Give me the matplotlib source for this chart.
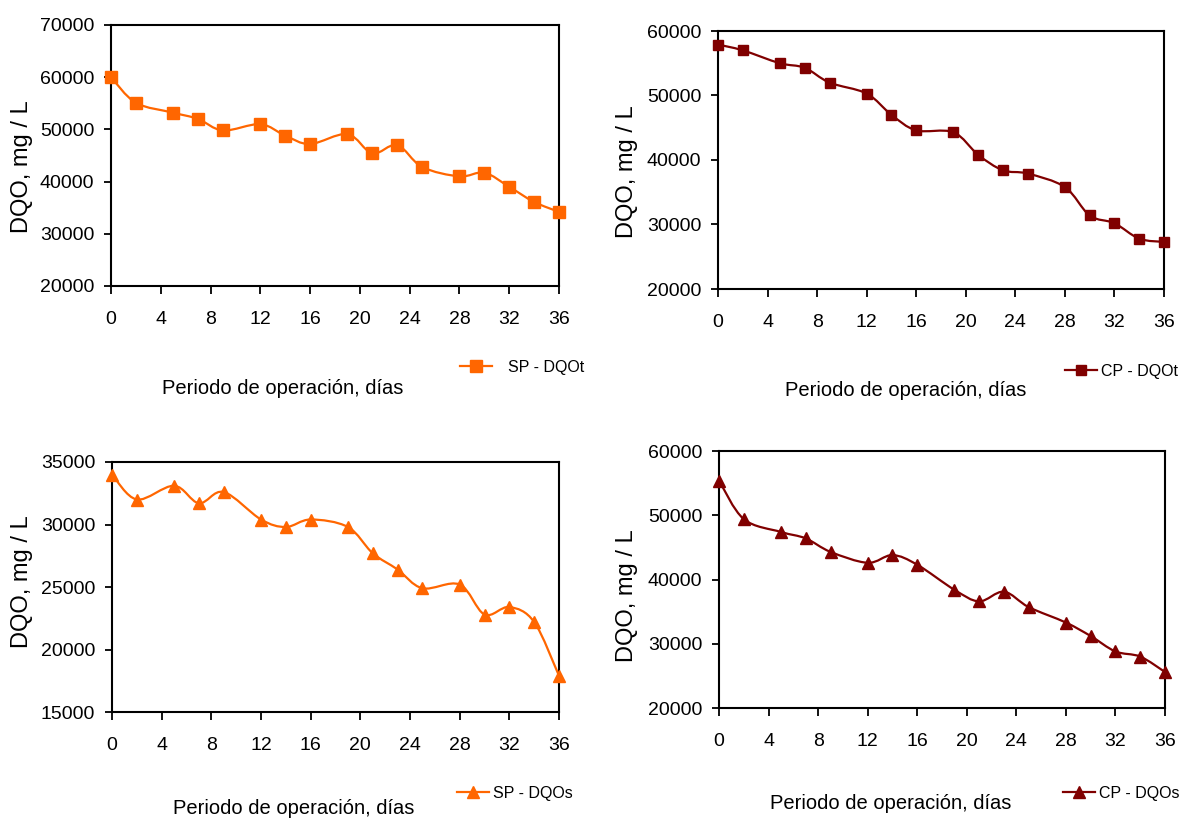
import matplotlib
matplotlib.use("Agg")
import matplotlib.pyplot as plt
from matplotlib.path import Path
from matplotlib.patches import PathPatch
from matplotlib.lines import Line2D
import numpy as np

days = [0, 2, 5, 7, 9, 12, 14, 16, 19, 21, 23, 25, 28, 30, 32, 34, 36]
sp_dqot = [60000, 55100, 53200, 52000, 49800, 51000, 48800, 47200, 49100,
           45400, 47000, 42800, 41000, 41700, 39000, 36100, 34200]
cp_dqot = [57900, 57000, 55000, 54300, 52000, 50300, 47000, 44600, 44300,
           40800, 38400, 37900, 35800, 31400, 30200, 27800, 27300]
sp_dqos = [34000, 32000, 33100, 31700, 32600, 30400, 29800, 30400, 29800,
           27700, 26400, 24900, 25200, 22800, 23400, 22200, 17900]
cp_dqos = [55400, 49400, 47400, 46400, 44300, 42600, 43800, 42300, 38400,
           36600, 38100, 35700, 33300, 31200, 28800, 28000, 25600]

xticks = [0, 4, 8, 12, 16, 20, 24, 28, 32, 36]
xlabel = "Periodo de operación, días"
ylabel = "DQO, mg / L"

ORANGE = "#FF6600"
DARKRED = "#800000"

W, H = 1191, 821
fig = plt.figure(figsize=(W / 100, H / 100), dpi=100)

REG = ["Liberation Sans", "DejaVu Sans"]


def smooth_path(x, y):
    pts = np.column_stack([x, y]).astype(float)
    n = len(pts)
    verts = [pts[0]]
    codes = [Path.MOVETO]
    for i in range(n - 1):
        p0 = pts[i - 1] if i > 0 else pts[i]
        p1 = pts[i]
        p2 = pts[i + 1]
        p3 = pts[i + 2] if i + 2 < n else pts[i + 1]
        c1 = p1 + (p2 - p0) / 6.0
        c2 = p2 - (p3 - p1) / 6.0
        verts += [c1, c2, p2]
        codes += [Path.CURVE4] * 3
    return Path(verts, codes)


# rect in pixel: left, top, right, bottom
panels = [
    dict(rect=(111, 25, 559, 286), y=sp_dqot, color=ORANGE, marker="s", ms=8,
         ylim=(20000, 70000), ystep=10000, label="SP - DQOt",
         leg=(460, 367), tpad=1.0, ylab=(22, 167), xlab=(283, 388)),
    dict(rect=(718, 31, 1164, 289), y=cp_dqot, color=DARKRED, marker="s", ms=7.5,
         ylim=(20000, 60000), ystep=10000, label="CP - DQOt",
         leg=(1065, 371), tpad=0.25, ylab=(627, 172), xlab=(906, 390)),
    dict(rect=(112, 462, 559, 712), y=sp_dqos, color=ORANGE, marker="^", ms=9,
         ylim=(15000, 35000), ystep=5000, label="SP - DQOs",
         leg=(457, 793), tpad=0.25, ylab=(22, 582), xlab=(294, 808)),
    dict(rect=(719, 451, 1165, 708), y=cp_dqos, color=DARKRED, marker="^", ms=9,
         ylim=(20000, 60000), ystep=10000, label="CP - DQOs",
         leg=(1063, 793), tpad=0.25, ylab=(627, 596), xlab=(891, 803)),
]

for p in panels:
    l, t, r, b = p["rect"]
    ax = fig.add_axes([l / W, 1 - b / H, (r - l) / W, (b - t) / H])
    ax.set_xlim(0, 36)
    ax.set_ylim(*p["ylim"])
    ax.set_xticks(xticks)
    ax.set_yticks(np.arange(p["ylim"][0], p["ylim"][1] + 1, p["ystep"]))
    for s in ax.spines.values():
        s.set_linewidth(1.5)
        s.set_color("black")
    ax.tick_params(axis="y", direction="out", length=5, width=1.3, pad=7,
                   labelsize=14)
    ax.tick_params(axis="x", direction="out", length=6, width=1.3, pad=12,
                   labelsize=14)
    for lab in ax.get_yticklabels() + ax.get_xticklabels():
        lab.set_family(REG)

    patch = PathPatch(smooth_path(days, p["y"]), facecolor="none",
                      edgecolor=p["color"], lw=1.6)
    ax.add_patch(patch)
    ax.plot(days, p["y"], linestyle="none", marker=p["marker"], ms=p["ms"],
            color=p["color"], clip_on=False, zorder=5)

    ax.set_ylabel(ylabel, fontsize=17, family=REG)
    ax.yaxis.set_label_coords((p["ylab"][0] - l) / (r - l),
                              (b - p["ylab"][1]) / (b - t))
    ax.yaxis.label.set_va("center")
    ax.set_xlabel(xlabel, fontsize=14.5, family=REG)
    ax.xaxis.set_label_coords((p["xlab"][0] - l) / (r - l),
                              (b - p["xlab"][1]) / (b - t))
    ax.xaxis.label.set_va("center")

    h = Line2D([], [], color=p["color"], lw=1.6, marker=p["marker"],
               ms=p["ms"])
    fig.legend([h], [p["label"]], loc="center left",
               bbox_to_anchor=(p["leg"][0] / W, 1 - p["leg"][1] / H),
               frameon=False, borderpad=0, borderaxespad=0,
               handlelength=2.0, handletextpad=p["tpad"],
               prop=dict(family=REG, size=11.5), markerscale=1.0,
               numpoints=1)

fig.savefig("out.png", dpi=100)
